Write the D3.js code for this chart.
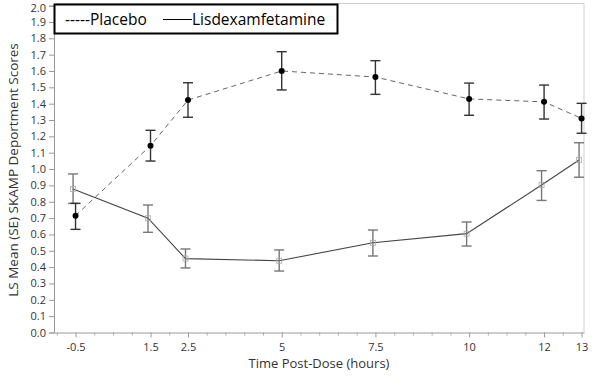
<!DOCTYPE html>
<html><head><meta charset="utf-8">
<script src="https://cdn.jsdelivr.net/npm/d3@7"></script>
<style>body{margin:0;background:#fff;} text{font-family:"Open Sans",sans-serif;}</style>
</head><body>
<svg id="c" width="603" height="384"></svg>
<script>
const times = [-0.5, 1.5, 2.5, 5, 7.5, 10, 12, 13];
const xTickLabels = ["-0.5","1.5","2.5","5","7.5","10","12","13"];
const placeboMean = [0.715, 1.143, 1.422, 1.600, 1.563, 1.429, 1.411, 1.310];
const placeboLow  = [0.631, 1.049, 1.317, 1.484, 1.457, 1.329, 1.306, 1.219];
const placeboHigh = [0.790, 1.237, 1.528, 1.718, 1.663, 1.526, 1.514, 1.402];
const lisMean = [0.878, 0.699, 0.452, 0.439, 0.549, 0.605, 0.902, 1.055];
const lisLow  = [0.790, 0.613, 0.395, 0.376, 0.468, 0.529, 0.808, 0.950];
const lisHigh = [0.970, 0.780, 0.511, 0.505, 0.627, 0.676, 0.990, 1.161];
const yTicks = d3.range(0, 21).map(i => i / 10);

const svg = d3.select("#c");
const x = d3.scaleLinear().domain([-1.075, 13.065]).range([54, 584]);
const y = d3.scaleLinear().domain([0, 2]).range([332.5, 5.6]);
const lisOff = -2.5;

// frame
svg.append("line").attr("x1",54).attr("x2",584).attr("y1",3.5).attr("y2",3.5).attr("stroke","#d0d0d0");
svg.append("line").attr("x1",584).attr("x2",584).attr("y1",3.5).attr("y2",332.5).attr("stroke","#d0d0d0");

// y axis
const ya = svg.append("g").attr("transform","translate(54,0)")
  .call(d3.axisLeft(y).tickValues(yTicks).tickFormat(d3.format(".1f")).tickSize(5).tickPadding(3));
ya.select(".domain").attr("stroke","#999");
ya.selectAll(".tick line").attr("stroke","#999");
ya.selectAll("text").attr("font-size",11).attr("fill","#333");
ya.selectAll("text").filter(d => d === 2).attr("dy","0.5em");

// x axis
const minor = d3.range(-1, 13.01, 0.5).filter(v => !times.includes(v));
const xm = svg.append("g").attr("transform","translate(0,332.5)")
  .call(d3.axisBottom(x).tickValues(minor).tickFormat("").tickSize(3).tickSizeOuter(0));
xm.select(".domain").attr("stroke","#999");
xm.selectAll(".tick line").attr("stroke","#aaa");
const xa = svg.append("g").attr("transform","translate(0,332.5)")
  .call(d3.axisBottom(x).tickValues(times).tickFormat((d,i)=>xTickLabels[i]).tickSize(5).tickPadding(6).tickSizeOuter(0));
xa.select(".domain").remove();
xa.selectAll(".tick line").attr("stroke","#999");
xa.selectAll("text").attr("font-size",11).attr("fill","#333");

// labels
svg.append("text").attr("x",319).attr("y",368).attr("text-anchor","middle").attr("font-size",13).attr("fill","#333").text("Time Post-Dose (hours)");
svg.append("text").attr("transform","translate(18,170) rotate(-90)").attr("text-anchor","middle").attr("font-size",13.5).attr("fill","#333").text("LS Mean (SE) SKAMP Deportment Scores");

// lines
const line = d3.line();
svg.append("path").attr("d", line(times.map((t,i)=>[x(t), y(placeboMean[i])])))
  .attr("fill","none").attr("stroke","#666").attr("stroke-width",1).attr("stroke-dasharray","5,4");
svg.append("path").attr("d", line(times.map((t,i)=>[x(t)+lisOff, y(lisMean[i])])))
  .attr("fill","none").attr("stroke","#444").attr("stroke-width",1.1);

// error bars
function ebars(mean, lo, hi, off, color) {
  const g = svg.append("g");
  times.forEach((t,i)=>{
    const cx = x(t)+off;
    g.append("line").attr("x1",cx).attr("x2",cx).attr("y1",y(lo[i])).attr("y2",y(hi[i])).attr("stroke",color).attr("stroke-width",1.4);
    [lo[i],hi[i]].forEach(v=>g.append("line").attr("x1",cx-5).attr("x2",cx+5).attr("y1",y(v)).attr("y2",y(v)).attr("stroke",color).attr("stroke-width",1.4));
  });
}
ebars(lisMean, lisLow, lisHigh, lisOff, "#777");
ebars(placeboMean, placeboLow, placeboHigh, 0, "#333");

// markers
svg.append("g").selectAll("rect").data(times).join("rect")
  .attr("x",(d)=>x(d)+lisOff-2.5).attr("y",(d,i)=>y(lisMean[i])-2.5).attr("width",5).attr("height",5)
  .attr("fill","none").attr("stroke","#aaa").attr("stroke-width",0.8);
svg.append("g").selectAll("circle").data(times).join("circle")
  .attr("cx",d=>x(d)).attr("cy",(d,i)=>y(placeboMean[i])).attr("r",3).attr("fill","#000");

// legend
svg.append("rect").attr("x",54.5).attr("y",4.5).attr("width",283).attr("height",29).attr("fill","#fff").attr("stroke","#000").attr("stroke-width",2);
svg.append("text").attr("x",65).attr("y",25).attr("font-size",15.5).attr("font-family","Lato").attr("fill","#000").text("-----Placebo");
svg.append("line").attr("x1",163).attr("x2",192).attr("y1",19.5).attr("y2",19.5).attr("stroke","#000").attr("stroke-width",1);
svg.append("text").attr("x",192).attr("y",25).attr("font-size",15.5).attr("font-family","Lato").attr("fill","#000").text("Lisdexamfetamine");
</script>
</body></html>
